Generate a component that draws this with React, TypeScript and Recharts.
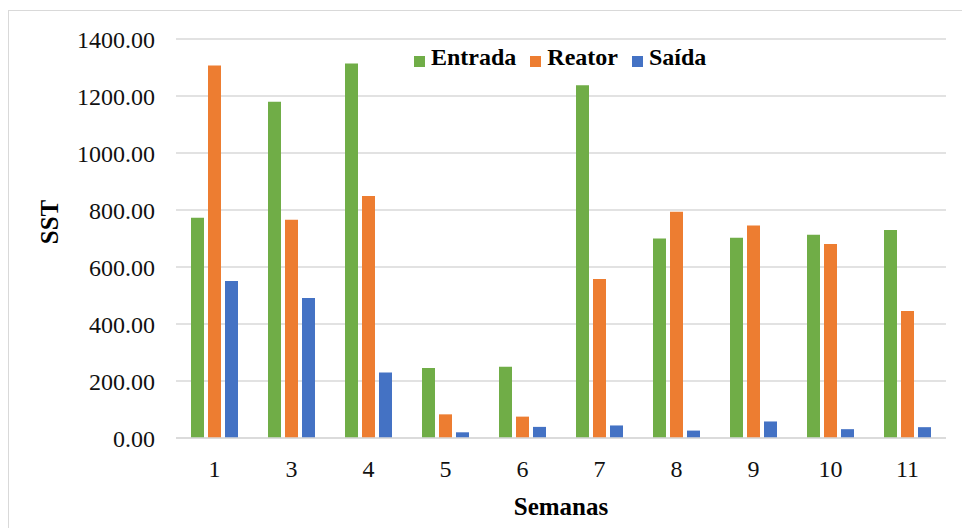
import { BarChart, Bar, XAxis, YAxis, CartesianGrid, Legend, Label } from "recharts";

const semanas = ["1", "3", "4", "5", "6", "7", "8", "9", "10", "11"];
const entrada = [773, 1180, 1314, 246, 250, 1238, 700, 703, 713, 730];
const reator = [1307, 766, 849, 83, 75, 558, 794, 746, 681, 446];
const saida = [551, 491, 230, 20, 39, 44, 26, 58, 31, 38];
const yTicks = [0, 200, 400, 600, 800, 1000, 1200, 1400];

const data = semanas.map((s, i) => ({
  semana: s,
  Entrada: entrada[i],
  Reator: reator[i],
  "Saída": saida[i],
}));

const FONT = "'Liberation Serif', 'Times New Roman', serif";

// legend spacing a bit wider than the recharts default
const legendCss = `
.recharts-legend-item { margin-right: 14px !important; }
.recharts-legend-item .recharts-surface { margin-right: 6px !important; }
`;

export default function App() {
  return (
    <div style={{ position: "fixed", left: 0, top: 0, width: 962, height: 528, background: "#fff" }}>
      <style>{legendCss}</style>
      <div
        style={{
          position: "absolute",
          left: 8,
          top: 10,
          right: 0,
          bottom: 0,
          borderTop: "1px solid #d9d9d9",
          borderLeft: "1px solid #d9d9d9",
        }}
      />
      <div style={{ position: "absolute", left: 0, top: 0 }}>
        <BarChart
          width={962}
          height={528}
          data={data}
          margin={{ top: 39, right: 16, bottom: 0, left: 0 }}
          barSize={13}
          barGap={4}
          style={{ fontFamily: FONT }}
        >
          <CartesianGrid vertical={false} stroke="#d9d9d9" strokeWidth={1.3} />
          <XAxis
            dataKey="semana"
            height={90}
            tickLine={false}
            tickSize={0}
            tickMargin={22}
            axisLine={{ stroke: "#d9d9d9", strokeWidth: 1.3 }}
            tick={{ fill: "#111", fontSize: 24, fontFamily: FONT }}
          >
            <Label
              value="Semanas"
              position="insideBottom"
              offset={13}
              style={{ fontSize: 25, fontWeight: "bold", fill: "#000", fontFamily: FONT }}
            />
          </XAxis>
          <YAxis
            width={176}
            domain={[0, 1400]}
            ticks={yTicks}
            interval={0}
            tickFormatter={(v: number) => v.toFixed(2)}
            axisLine={false}
            tickLine={false}
            tickSize={0}
            tickMargin={21}
            tick={{ fill: "#111", fontSize: 24, fontFamily: FONT }}
          >
            <Label
              value="SST"
              content={() => (
                <text
                  x={58}
                  y={222}
                  transform="rotate(-90 58 222)"
                  textAnchor="middle"
                  style={{ fontSize: 25, fontWeight: "bold", fill: "#000", fontFamily: FONT }}
                >
                  SST
                </text>
              )}
            />
          </YAxis>
          <Legend
            layout="horizontal"
            verticalAlign="middle"
            align="center"
            iconType="square"
            iconSize={11}
            wrapperStyle={{ top: 44, left: 414, width: "auto" }}
            formatter={(value: string) => (
              <span style={{ color: "#000", fontWeight: "bold", fontSize: 24, fontFamily: FONT }}>{value}</span>
            )}
          />
          <Bar dataKey="Entrada" fill="#70ad47" isAnimationActive={false} />
          <Bar dataKey="Reator" fill="#ed7d31" isAnimationActive={false} />
          <Bar dataKey="Saída" fill="#4472c4" isAnimationActive={false} />
        </BarChart>
      </div>
    </div>
  );
}
